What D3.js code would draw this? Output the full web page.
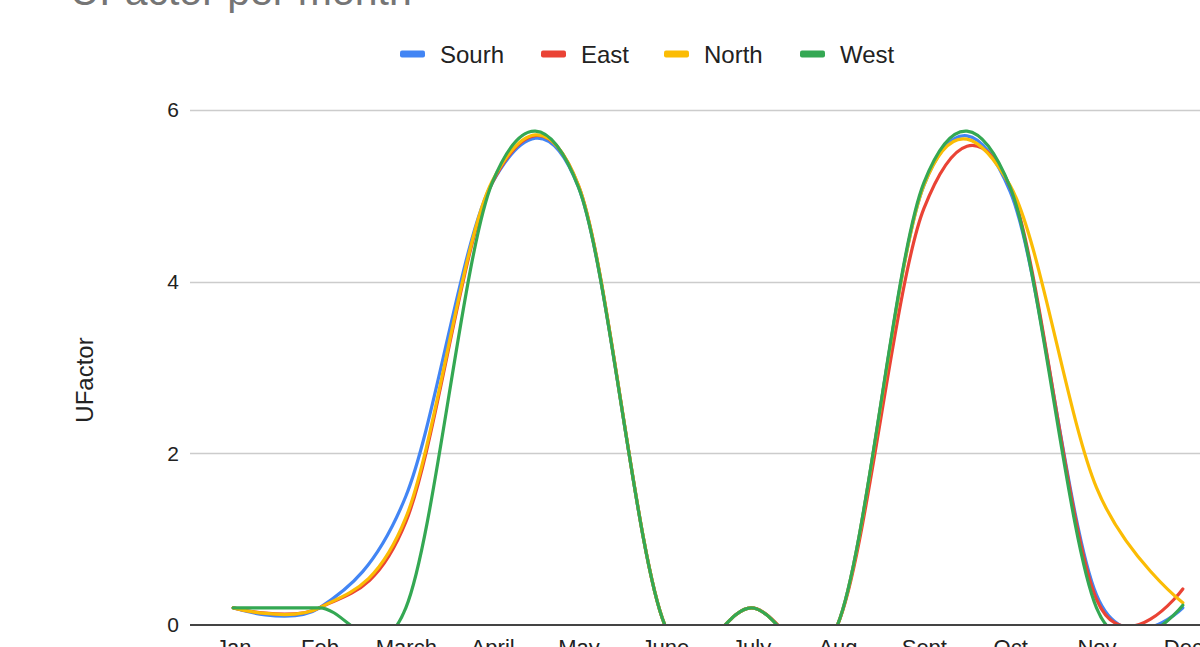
<!DOCTYPE html>
<html>
<head>
<meta charset="utf-8">
<script src="https://cdn.jsdelivr.net/npm/d3@7/dist/d3.min.js"></script>
<style>
  html, body { margin: 0; padding: 0; background: #fff; overflow: hidden; }
  svg { display: block; font-family: "Liberation Sans", Arial, sans-serif; }
</style>
</head>
<body>
<svg id="chart" width="1200" height="647"></svg>
<script>
// Monthly UFactor readings per region
const months = ["Jan", "Feb", "March", "April", "May", "June", "July", "Aug", "Sept", "Oct", "Nov", "Dec"];
const south = [0.2, 0.2, 1.5, 5.15, 5.1, 0, 0.2, 0, 5.12, 5.05, 0.35, 0.2];
const east  = [0.2, 0.2, 1.2, 5.15, 5.12, 0, 0.2, 0, 4.85, 5.1, 0.3, 0.42];
const north = [0.2, 0.2, 1.25, 5.17, 5.12, 0, 0.2, 0, 5.12, 5.12, 1.6, 0.26];
const west  = [0.2, 0.2, 0.2, 5.15, 5.1, 0, 0.2, 0, 5.15, 5.1, 0.2, 0.23];
const seriesNames = ["Sourh", "East", "North", "West"];
const yTicks = [0, 2, 4, 6];

const series = [
  { name: seriesNames[0], values: south, color: "#4285F4" },
  { name: seriesNames[1], values: east,  color: "#EA4335" },
  { name: seriesNames[2], values: north, color: "#FBBC04" },
  { name: seriesNames[3], values: west,  color: "#34A853" }
];

const svg = d3.select("#chart");
const plot = { left: 190, right: 1226, top: 110, bottom: 625 };

const x = d3.scalePoint().domain(months).range([plot.left, plot.right]).padding(0.5);
const y = d3.scaleLinear().domain([0, 6]).range([plot.bottom, plot.top]);

// Title
svg.append("text")
  .attr("x", 70).attr("y", 5)
  .attr("font-size", 41).attr("fill", "#757575")
  .text("UFactor per month");

// Legend
const legendX = [400, 541, 664, 800];
const legend = svg.append("g");
series.forEach((s, i) => {
  const g = legend.append("g").attr("transform", `translate(${legendX[i]},54)`);
  g.append("rect").attr("x", 0).attr("y", -3.5).attr("width", 25).attr("height", 7)
    .attr("rx", 2).attr("fill", s.color);
  g.append("text").attr("x", 40).attr("y", 8.5)
    .attr("font-size", 24).attr("fill", "#222").text(s.name);
});

// Gridlines
svg.append("g").selectAll("line")
  .data(yTicks.filter(d => d !== 0))
  .join("line")
  .attr("x1", plot.left).attr("x2", 1200)
  .attr("y1", d => Math.round(y(d)) + 0.5).attr("y2", d => Math.round(y(d)) + 0.5)
  .attr("stroke", "#cccccc").attr("stroke-width", 1.5);

// Y axis tick labels
const yAxis = d3.axisLeft(y).tickValues(yTicks).tickSize(0).tickPadding(0).tickFormat(d3.format("d"));
const yg = svg.append("g").attr("transform", `translate(179,0)`).call(yAxis);
yg.select(".domain").remove();
yg.selectAll("text").attr("font-size", 21).attr("fill", "#222")
  .attr("font-family", "Liberation Sans, Arial, sans-serif");

// X axis labels
const xAxis = d3.axisBottom(x).tickSize(0).tickPadding(0);
const xg = svg.append("g").attr("transform", `translate(0,${plot.bottom})`).call(xAxis);
xg.select(".domain").remove();
xg.selectAll("text").attr("font-size", 22).attr("fill", "#222").attr("dy", null).attr("y", 30)
  .attr("font-family", "Liberation Sans, Arial, sans-serif");

// Y axis title
svg.append("text")
  .attr("transform", "translate(93,380) rotate(-90)")
  .attr("text-anchor", "middle")
  .attr("font-size", 24).attr("fill", "#222")
  .text("UFactor");

// Lines, clipped to the plot area
svg.append("defs").append("clipPath").attr("id", "plot-clip")
  .append("rect").attr("x", 0).attr("y", 0).attr("width", 1200).attr("height", plot.bottom);

const line = d3.line()
  .x((d, i) => x(months[i]))
  .y(d => y(d))
  .curve(d3.curveCardinal.tension(0));

svg.append("g").attr("clip-path", "url(#plot-clip)")
  .selectAll("path")
  .data(series)
  .join("path")
  .attr("d", d => line(d.values))
  .attr("fill", "none")
  .attr("stroke", d => d.color)
  .attr("stroke-width", 3.2)
  .attr("stroke-linejoin", "round")
  .attr("stroke-linecap", "round");

// Baseline
svg.append("line")
  .attr("x1", plot.left).attr("x2", 1200)
  .attr("y1", plot.bottom).attr("y2", plot.bottom)
  .attr("stroke", "#444").attr("stroke-width", 2);
</script>
</body>
</html>
